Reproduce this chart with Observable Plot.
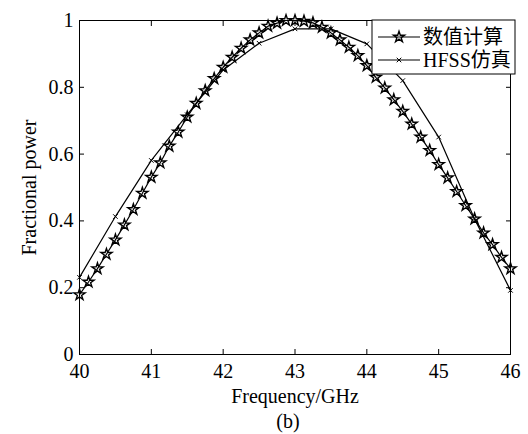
<!DOCTYPE html>
<html>
<head>
<meta charset="utf-8">
<script src="https://cdn.jsdelivr.net/npm/d3@7"></script>
<script src="https://cdn.jsdelivr.net/npm/@observablehq/plot@0.6"></script>
<style>
  html, body { margin: 0; padding: 0; background: #fff; }
</style>
</head>
<body>
<div id="chart"></div>
<script>
const numFreq = [40,40.125,40.25,40.375,40.5,40.625,40.75,40.875,41,41.125,41.25,41.375,41.5,41.625,41.75,41.875,42,42.125,42.25,42.375,42.5,42.625,42.75,42.875,43,43.125,43.25,43.375,43.5,43.625,43.75,43.875,44,44.125,44.25,44.375,44.5,44.625,44.75,44.875,45,45.125,45.25,45.375,45.5,45.625,45.75,45.875,46];
const numPower = [0.179,0.217,0.257,0.300,0.343,0.388,0.434,0.483,0.531,0.574,0.624,0.666,0.711,0.752,0.790,0.826,0.860,0.890,0.917,0.942,0.963,0.983,0.992,1.0,1.0,0.998,0.993,0.980,0.963,0.942,0.920,0.895,0.865,0.830,0.798,0.763,0.728,0.690,0.651,0.611,0.569,0.529,0.488,0.446,0.406,0.364,0.329,0.291,0.257];
const hfssFreq = [40,40.5,41,41.5,42,42.5,43,43.5,44,44.5,45,45.5,46];
const hfssPower = [0.231,0.413,0.581,0.718,0.852,0.932,0.975,0.975,0.930,0.820,0.651,0.406,0.192];
const xTicks = [40,41,42,43,44,45,46];
const yTicks = [0,0.2,0.4,0.6,0.8,1];
const seriesNames = ["数值计算","HFSS仿真"];

const numData = numFreq.map((f,i)=>({f, p:numPower[i]}));
const hfssData = hfssFreq.map((f,i)=>({f, p:hfssPower[i]}));

const font = "'Liberation Serif','Times New Roman','Noto Sans CJK SC',serif";

const chart = Plot.plot({
  width: 528,
  height: 434,
  marginLeft: 79,
  marginRight: 18,
  marginTop: 20,
  marginBottom: 80,
  style: {fontFamily: font, fontSize: "20px", background: "#fff", color: "#000"},
  x: {domain: [40,46]},
  y: {domain: [0,1]},
  marks: [
    Plot.frame({stroke: "#000", strokeWidth: 1}),
    Plot.axisX({anchor: "bottom", ticks: xTicks, tickSize: -5, tickPadding: 14, tickFormat: d => String(d), label: "Frequency/GHz", labelAnchor: "center", labelArrow: "none", labelOffset: 48, fontSize: 20}),
    Plot.axisX({anchor: "top", ticks: xTicks, tickSize: -5, tickFormat: () => "", label: null}),
    Plot.axisY({anchor: "left", ticks: yTicks, tickSize: -5, tickPadding: 11, tickFormat: d => String(d), label: "Fractional power", labelAnchor: "center", labelArrow: "none", labelOffset: 58, fontSize: 20}),
    Plot.axisY({anchor: "right", ticks: yTicks, tickSize: -5, tickFormat: () => "", label: null}),
    Plot.line(hfssData, {x: "f", y: "p", stroke: "#000", strokeWidth: 1.2}),
    Plot.dot(hfssData, {x: "f", y: "p", symbol: "times", r: 2.2, stroke: "#000", strokeWidth: 1}),
    Plot.line(numData, {x: "f", y: "p", stroke: "#000", strokeWidth: 1.2}),
    Plot.dot(numData, {x: "f", y: "p", symbol: "star", r: 3.5, fill: "none", stroke: "#000", strokeWidth: 1.4}),
    Plot.text(["(b)"], {frameAnchor: "bottom", dy: 73, dx: -7, fontSize: 20, fill: "#000"})
  ]
});
document.getElementById("chart").appendChild(chart);

// legend
const svg = d3.select(chart);
const lg = svg.append("g").attr("font-family", font).attr("font-size", 20).attr("text-anchor", "start");
lg.append("rect").attr("x", 372).attr("y", 20).attr("width", 143).attr("height", 54)
  .attr("fill", "#fff").attr("stroke", "#000").attr("stroke-width", 1);
const rows = [37, 60];
rows.forEach((yy, i) => {
  lg.append("line").attr("x1", 378).attr("x2", 420).attr("y1", yy).attr("y2", yy)
    .attr("stroke", "#000").attr("stroke-width", 1.2);
  const sym = i === 0 ? d3.symbolStar : d3.symbolTimes;
  const size = i === 0 ? Math.PI * 3.5 * 3.5 : Math.PI * 2.2 * 2.2;
  lg.append("path").attr("d", d3.symbol(sym, size)()).attr("transform", `translate(399,${yy})`)
    .attr("fill", "none").attr("stroke", "#000").attr("stroke-width", i === 0 ? 1.4 : 1);
  lg.append("text").attr("x", 423).attr("y", yy).attr("dy", "0.35em").attr("fill", "#000").attr("text-anchor", "start").text(seriesNames[i]);
});
</script>
</body>
</html>
